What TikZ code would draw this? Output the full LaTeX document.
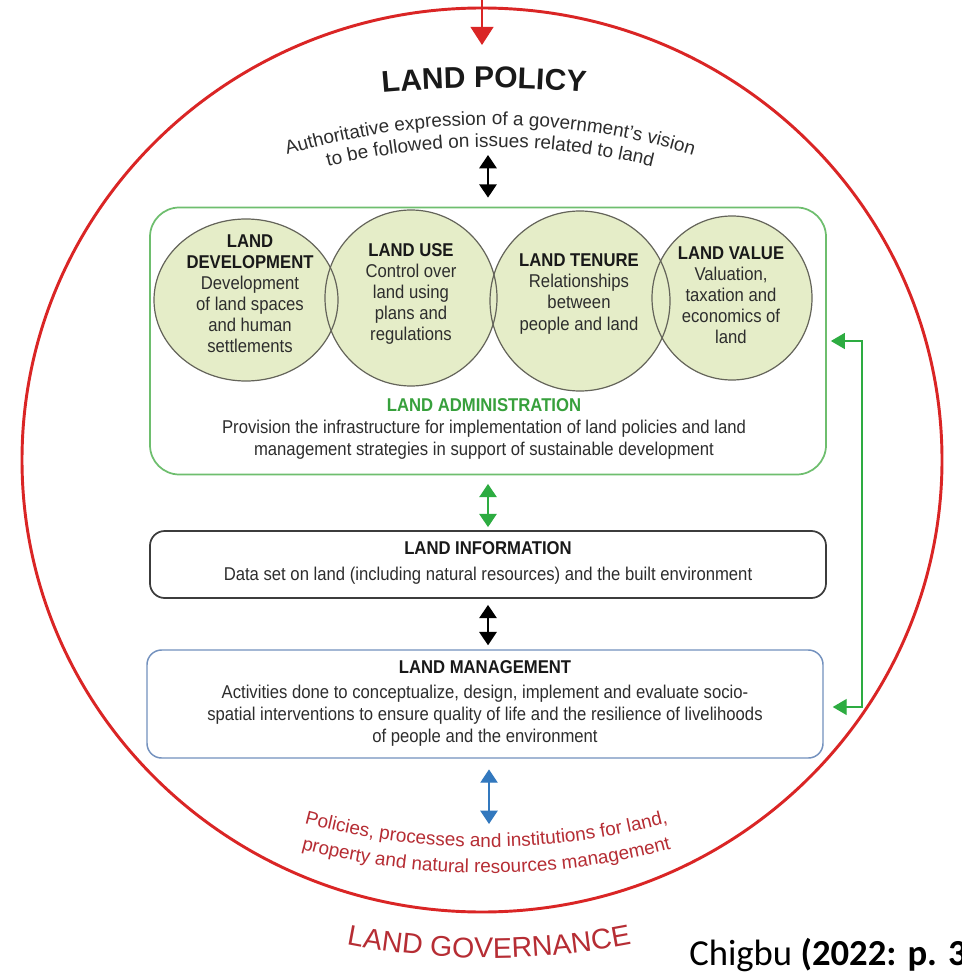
\documentclass[tikz,border=0pt]{standalone}
\usepackage{fontspec}
\setmainfont{Liberation Sans}
\newfontfamily\nar[FakeStretch=0.9]{Liberation Sans}
\newfontfamily\capfont{Carlito}
\usetikzlibrary{decorations.text, arrows.meta, calc, shapes.geometric}
\definecolor{cred}{RGB}{218,37,37}
\definecolor{tred}{RGB}{182,45,52}
\definecolor{gbox}{RGB}{110,190,110}
\definecolor{garr}{RGB}{45,172,65}
\definecolor{gtext}{RGB}{55,160,60}
\definecolor{bfill}{RGB}{229,237,200}
\definecolor{bline}{RGB}{100,100,90}
\definecolor{ibox}{RGB}{60,60,60}
\definecolor{mbox}{RGB}{115,145,190}
\definecolor{barr}{RGB}{50,120,190}
\definecolor{txt}{RGB}{45,45,45}
\definecolor{ttl}{RGB}{25,25,25}
\tikzset{
  body/.style={font=\nar\fontsize{13.9pt}{16.4pt}\selectfont, text=txt, align=center, inner sep=0pt},
  bubtext/.style={font=\nar\fontsize{13.9pt}{15.8pt}\selectfont, text=txt, align=center, inner sep=0pt},
  bub/.style={ellipse, fill=bfill, inner sep=0pt},
  dblk/.style={line width=1.5pt, draw=black, {Triangle[width=13pt,length=10pt]}-{Triangle[width=13pt,length=10pt]}},
  dblg/.style={line width=1.5pt, draw=garr, fill=garr, {Triangle[width=13pt,length=10pt]}-{Triangle[width=13pt,length=10pt]}},
  dblb/.style={line width=1pt, draw=barr, {Triangle[width=13pt,length=10pt]}-{Triangle[width=13pt,length=10pt]}},
  fback/.style={line width=1.1pt, draw=garr, {Triangle[width=12pt,length=10.5pt]}-{Triangle[width=12pt,length=10.5pt]}},
  redarr/.style={line width=1.5pt, draw=cred, -{Triangle[width=17pt,length=13.5pt]}},
}
\begin{document}
\begin{tikzpicture}[x=0.75pt,y=-0.75pt]
\useasboundingbox (0,0) rectangle (961,973);
\fill[white] (0,0) rectangle (961,973);

% land governance circle
\node[draw=cred, line width=2.2pt, ellipse, minimum width=920*0.75pt, minimum height=904*0.75pt, inner sep=0pt] (gov) at (482,460) {};
\coordinate (rtop) at (482,0);
\coordinate (rtip) at (482,45);
\draw[redarr] (rtop) -- (rtip);

% land policy title and subtitle
\path[decorate, decoration={text along path, text align=center, text color=ttl,
  text={|\bfseries\fontsize{22.5pt}{24pt}\selectfont|LAND POLICY}}]
  ($(484,1188)+(-100:1100)$) arc[start angle=-100, end angle=-80, radius=1100];
\path[decorate, decoration={text along path, text align=center, text color=txt,
  text={|\fontsize{14.2pt}{16pt}\selectfont|Authoritative expression of a government’s vision}}]
  ($(490,825)+(-112:700)$) arc[start angle=-112, end angle=-68, radius=700];
\path[decorate, decoration={text along path, text align=center, text color=txt,
  text={|\fontsize{14.2pt}{16pt}\selectfont|to be followed on issues related to land}}]
  ($(490,825)+(-112:678)$) arc[start angle=-112, end angle=-68, radius=678];
\coordinate (polc) at (488,155);

% land administration box
\node[draw=gbox, line width=1.3pt, rounded corners=22pt, minimum width=676*0.75pt, minimum height=267*0.75pt, inner sep=0pt] (admin) at (488,341) {};

% bubbles
\node[bub, minimum width=184*0.75pt, minimum height=162*0.75pt] (e1) at (246,300) {};
\node[bub, minimum width=172*0.75pt, minimum height=176*0.75pt] (e2) at (411,298) {};
\node[bub, minimum width=180*0.75pt, minimum height=180*0.75pt] (e3) at (580,301) {};
\node[bub, minimum width=160*0.75pt, minimum height=164*0.75pt] (e4) at (732,298) {};
\foreach \n/\rx/\ry in {e1/92/81, e2/86/88, e3/90/90, e4/80/82}
  \draw[bline, line width=0.9pt] (\n.center) ellipse[x radius=\rx, y radius=\ry];

\node[bubtext] (e1t) at (250,294) {\textbf{\color{ttl}LAND}\\\textbf{\color{ttl}DEVELOPMENT}\\Development\\of land spaces\\and human\\settlements};
\node[bubtext] (e2t) at (411,294) {\textbf{\color{ttl}LAND USE}\\Control over\\land using\\plans and\\regulations};
\node[bubtext] (e3t) at (579,294) {\textbf{\color{ttl}LAND TENURE}\\Relationships\\between\\people and land};
\node[bubtext] (e4t) at (731,295) {\textbf{\color{ttl}LAND VALUE}\\Valuation,\\taxation and\\economics of\\land};

\node[body] (admt) at (484,429) {\textbf{\color{gtext}LAND ADMINISTRATION}\\Provision the infrastructure for implementation of land policies and land\\management strategies in support of sustainable development};

% land information box
\node[draw=ibox, line width=1.3pt, rounded corners=11pt, minimum width=676*0.75pt, minimum height=67*0.75pt, inner sep=0pt] (info) at (488,564.5) {};
\node[body] (infot) at (488,563) {\textbf{\color{ttl}LAND INFORMATION}\\[2.5pt]Data set on land (including natural resources) and the built environment};

% land management box
\node[draw=mbox, line width=1.1pt, rounded corners=11pt, minimum width=676*0.75pt, minimum height=108*0.75pt, inner sep=0pt] (mgmt) at (485,704) {};
\node[body] (mgmtt) at (485,703) {\textbf{\color{ttl}LAND MANAGEMENT}\\[2.5pt]Activities done to conceptualize, design, implement and evaluate socio-\\spatial interventions to ensure quality of life and the resilience of livelihoods\\of people and the environment};

% connectors
\draw[dblk, shorten >=6.75pt] (polc) -- (admin.north);
\draw[dblg, shorten <=6.4pt, shorten >=2.25pt] (admin.south) -- (info.north);
\draw[dblk, shorten <=4.5pt, shorten >=3pt] (info.south) -- (info.south |- mgmt.north);
\coordinate (bluetip) at (489,824);
\draw[dblb, shorten <=8pt] (bluetip |- mgmt.south) -- (bluetip);
\draw[fback, shorten <=3pt, shorten >=6.75pt] (admin.east) -- ++(35,0) |- ($(mgmt.east)+(0,3)$);

% land governance texts
\path[decorate, decoration={text along path, text align=center, text color=tred,
  text={|\fontsize{14.2pt}{16pt}\selectfont|Policies, processes and institutions for land,}}]
  ($(486,147)+(118:700)$) arc[start angle=118, end angle=62, radius=700];
\path[decorate, decoration={text along path, text align=center, text color=tred,
  text={|\fontsize{14.2pt}{16pt}\selectfont|property and natural resources management}}]
  ($(486,147)+(118:726)$) arc[start angle=118, end angle=62, radius=726];
\path[decorate, decoration={text along path, text align=center, text color=tred,
  text={|\fontsize{21.4pt}{24pt}\selectfont|LAND GOVERNANCE}}]
  ($(489,218)+(110:740)$) arc[start angle=110, end angle=70, radius=740];

% source caption
\node[anchor=base west, inner sep=0pt, font=\capfont\fontsize{27.5pt}{30pt}\selectfont, text=black] (src) at (689,965) {Chigbu \textbf{(2022: p. 3}};
\end{tikzpicture}
\end{document}
